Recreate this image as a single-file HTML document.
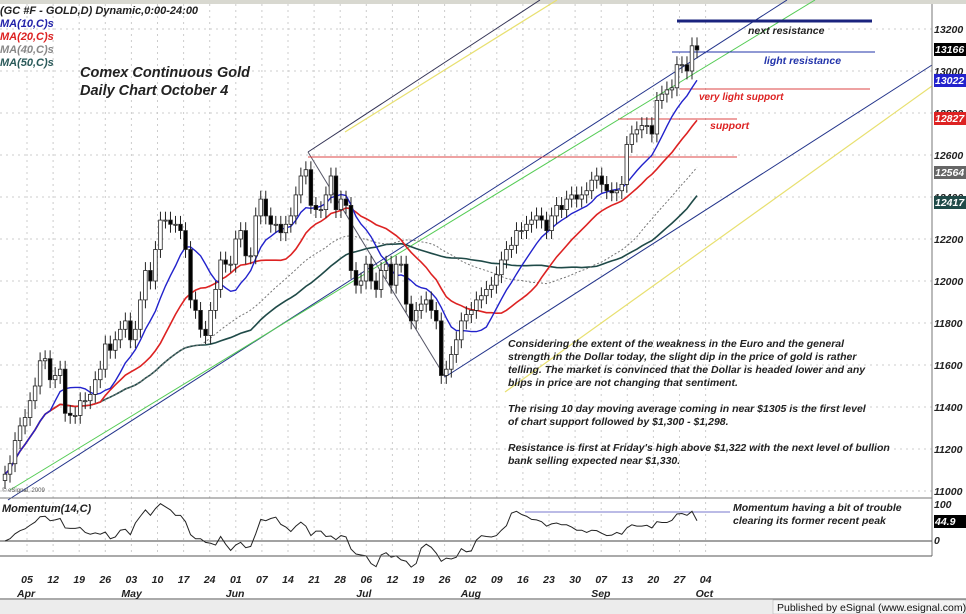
<!DOCTYPE html>
<html><head><meta charset="utf-8"><style>
body{margin:0;background:#fff;width:966px;height:614px;overflow:hidden}
svg{display:block;font-family:"Liberation Sans",sans-serif}
.ax{font-size:10.5px;font-weight:bold;font-style:italic;fill:#222}
.note{font-size:10.5px;font-weight:bold;font-style:italic;fill:#222}
</style></head><body>
<svg id="chart" width="966" height="614" viewBox="0 0 966 614">
<rect x="0" y="0" width="966" height="614" fill="#fff"/>
<rect x="0" y="0" width="966" height="4" fill="#d8d8d0"/>
<g id="grid"></g>
<g id="drawn">
<line x1="308" y1="152" x2="445" y2="377" stroke="#556" stroke-width="1"/>
<line x1="308" y1="152" x2="540" y2="0" stroke="#335" stroke-width="1"/>
<line x1="345" y1="132" x2="557" y2="0" stroke="#e8e070" stroke-width="1.2"/>
<line x1="8" y1="500" x2="787" y2="0" stroke="#22338a" stroke-width="1"/>
<line x1="10" y1="490" x2="815" y2="0" stroke="#5c5" stroke-width="1"/>
<line x1="445" y1="377" x2="932" y2="65" stroke="#22338a" stroke-width="1"/>
<line x1="505" y1="392" x2="932" y2="86" stroke="#e8e070" stroke-width="1.2"/>
<line x1="308" y1="157" x2="737" y2="157" stroke="#d44" stroke-width="1"/>
<line x1="618" y1="119" x2="737" y2="119" stroke="#d44" stroke-width="1"/>
<line x1="680" y1="89" x2="870" y2="89" stroke="#d44" stroke-width="1"/>
<line x1="672" y1="52" x2="875" y2="52" stroke="#2233aa" stroke-width="1"/>
<line x1="677" y1="21" x2="872" y2="21" stroke="#1a237e" stroke-width="3"/>
</g>
<g id="mas"></g>
<g id="candles"></g>
<g>
<text x="748" y="34" class="note">next resistance</text>
<text x="764" y="64" class="note" style="fill:#2233aa">light resistance</text>
<text x="699" y="100" class="note" style="fill:#d22;font-size:10px">very light support</text>
<text x="710" y="129" class="note" style="fill:#d22">support</text>
<text x="0" y="14" class="note" style="font-size:11px">(GC #F - GOLD,D) Dynamic,0:00-24:00</text>
<text x="0" y="27" class="note" style="fill:#22a;font-size:11px">MA(10,C)s</text>
<text x="0" y="40" class="note" style="fill:#d22;font-size:11px">MA(20,C)s</text>
<text x="0" y="53" class="note" style="fill:#888;font-size:11px">MA(40,C)s</text>
<text x="0" y="66" class="note" style="fill:#2a5a5a;font-size:11px">MA(50,C)s</text>
<text x="80" y="77" class="note" style="font-size:14.5px">Comex Continuous Gold</text>
<text x="80" y="95" class="note" style="font-size:14.5px">Daily Chart    October 4</text>
<g class="note">
<text x="508" y="347" class="note">Considering the extent of the weakness in the Euro and the general</text>
<text x="508" y="360" class="note">strength in the Dollar today, the slight dip in the price of gold is rather</text>
<text x="508" y="373" class="note">telling. The market is convinced that the Dollar is headed lower and any</text>
<text x="508" y="386" class="note">blips in price are not changing that sentiment.</text>
<text x="508" y="412" class="note">The rising 10 day moving average coming in near $1305 is the first level</text>
<text x="508" y="425" class="note">of chart support followed by $1,300 - $1,298.</text>
<text x="508" y="451" class="note">Resistance is first at Friday's high above $1,322 with the next level of bullion</text>
<text x="508" y="464" class="note">bank selling expected near $1,330.</text>
</g>
<text x="2" y="492" style="font-size:6px;fill:#555">© eSignal, 2009</text>
</g>
<line x1="932" y1="4" x2="932" y2="556" stroke="#777"/>
<line x1="0" y1="498" x2="932" y2="498" stroke="#777"/>
<g id="yaxis"></g>
<g style="font-size:10.5px;font-weight:bold;font-style:italic">
<rect x="934" y="43" width="32" height="13" fill="#000"/><text x="935" y="53" fill="#fff">13166</text>
<rect x="934" y="74" width="32" height="13" fill="#2222cc"/><text x="935" y="84" fill="#fff">13022</text>
<rect x="934" y="112" width="32" height="13" fill="#dd2222"/><text x="935" y="122" fill="#fff">12827</text>
<rect x="934" y="166" width="32" height="13" fill="#666"/><text x="935" y="176" fill="#fff">12564</text>
<rect x="934" y="196" width="32" height="13" fill="#1f4a48"/><text x="935" y="206" fill="#fff">12417</text>
</g>
<g id="mom">
<text x="2" y="512" class="note" style="font-size:11px">Momentum(14,C)</text>
<line x1="0" y1="541" x2="932" y2="541" stroke="#444"/>
<line x1="525" y1="512" x2="730" y2="512" stroke="#77c"/>
<text x="733" y="511" class="note">Momentum having a bit of trouble</text>
<text x="733" y="524" class="note">clearing its former recent peak</text>
<text x="934" y="508" class="ax">100</text>
<rect x="934" y="515" width="32" height="13" fill="#000"/><text x="935" y="525" class="ax" style="fill:#fff">44.9</text>
<text x="934" y="544" class="ax">0</text>
</g>
<line x1="0" y1="556" x2="932" y2="556" stroke="#555"/>
<line x1="0" y1="599" x2="966" y2="599" stroke="#555"/>
<g id="xaxis"></g>
<rect x="0" y="600" width="966" height="14" fill="#ececec"/>
<rect x="773" y="600" width="193" height="14" fill="#f4f4f4" stroke="#aaa" stroke-width="0.5"/>
<text x="777" y="611" style="font-size:10.5px;fill:#111">Published by eSignal (www.esignal.com)</text>
</svg>
<script>
const closes=[1108,1113,1124,1131,1135,1143,1150,1162,1163,1153,1155,1158,1137,1136,1136,1143,1143,1146,1153,1158,1170,1167,1172,1177,1181,1172,1177,1191,1205,1200,1215,1229,1229,1227,1227,1224,1215,1191,1186,1177,1174,1186,1196,1210,1208,1208,1220,1224,1212,1212,1231,1239,1231,1227,1227,1223,1227,1231,1241,1250,1253,1236,1234,1234,1241,1250,1234,1239,1236,1205,1198,1200,1208,1200,1196,1205,1208,1198,1208,1208,1189,1181,1186,1189,1191,1186,1181,1155,1158,1165,1172,1181,1184,1186,1191,1193,1196,1198,1203,1210,1215,1217,1224,1224,1227,1229,1231,1229,1224,1231,1236,1234,1239,1241,1239,1241,1243,1248,1250,1246,1243,1242,1243,1246,1265,1270,1272,1274,1274,1270,1286,1289,1291,1292,1303,1303,1300,1312,1310];
const yTicks=[1100,1120,1140,1160,1180,1200,1220,1240,1260,1280,1300,1320];
const dayLabels=["05","12","19","26","03","10","17","24","01","07","14","21","28","06","12","19","26","02","09","16","23","30","07","13","20","27","04"];
const monthLabels=["Apr","May","Jun","Jul","Aug","Sep","Oct"];
const monthTickIdx=[0,4,8,13,17,22,26];
const NS="http://www.w3.org/2000/svg";
function mk(t,a,p){const e=document.createElementNS(NS,t);for(const k in a)e.setAttribute(k,a[k]);p.appendChild(e);return e;}
const X0=5,X1=697;
function xs(i){return X0+i*(X1-X0)/(closes.length-1);}
function ys(p){return 491-(p-1100)*2.1;}
function xd(k){return 27+k*26.1;}
const grid=document.getElementById('grid'),yax=document.getElementById('yaxis'),xax=document.getElementById('xaxis');
yTicks.forEach(v=>{
 const l=mk('line',{x1:0,x2:932,y1:ys(v),y2:ys(v),stroke:'#ccc','stroke-dasharray':'2,4'},grid);
 
 
 const t=mk('text',{x:934,y:ys(v)+4,class:'ax'},yax);t.textContent=String(v*10);
 
 
});
dayLabels.forEach((d,k)=>{
 const l=mk('line',{x1:xd(k),x2:xd(k),y1:4,y2:556,stroke:'#ccc','stroke-dasharray':'2,4'},grid);
 
 
 const t=mk('text',{x:xd(k),y:583,class:'ax','text-anchor':'middle'},xax);t.textContent=d;
 
 
});
monthLabels.forEach((m,j)=>{
 const t=mk('text',{x:xd(monthTickIdx[j])-10,y:597,class:'ax'},xax);t.textContent=m;
 
 
});
function ma(n){return closes.map((c,i)=>{const s=closes.slice(Math.max(0,i-n+1),i+1);return s.reduce((a,b)=>a+b,0)/s.length;});}
const mag=document.getElementById('mas');
[[50,'#1f4a48',1.6,''],[40,'#777',1,'2,2'],[20,'#dd2222',1.6,''],[10,'#2222cc',1.4,'']].forEach(([n,c,w,d])=>{
 const v=ma(n);const pl=mk('polyline',{points:v.map((p,i)=>xs(i)+','+ys(p)).join(' '),fill:'none',stroke:c,'stroke-width':w,'stroke-dasharray':d},mag);
 
 
});
const cg=document.getElementById('candles');
closes.forEach((c,i)=>{
 const o=i?closes[i-1]:c-3;const hi=Math.max(o,c)+4,lo=Math.min(o,c)-4;const x=xs(i);
 const w=mk('line',{x1:x,x2:x,y1:ys(hi),y2:ys(lo),stroke:'#222','stroke-width':1},cg);
 
 
 const top=ys(Math.max(o,c)),h=Math.max(1,ys(Math.min(o,c))-top);
 const r=mk('rect',{x:x-1.8,y:top,width:3.6,height:h,fill:c>=o?'#fff':'#000',stroke:'#222','stroke-width':0.8},cg);
 
 
});
const mg=document.getElementById('mom');
const mom=closes.map((c,i)=>c-closes[Math.max(0,i-14)]);
const mp=mk('polyline',{points:mom.map((m,i)=>xs(i)+','+(541-m*0.45)).join(' '),fill:'none',stroke:'#222','stroke-width':1},mg);


</script>
</body></html>
